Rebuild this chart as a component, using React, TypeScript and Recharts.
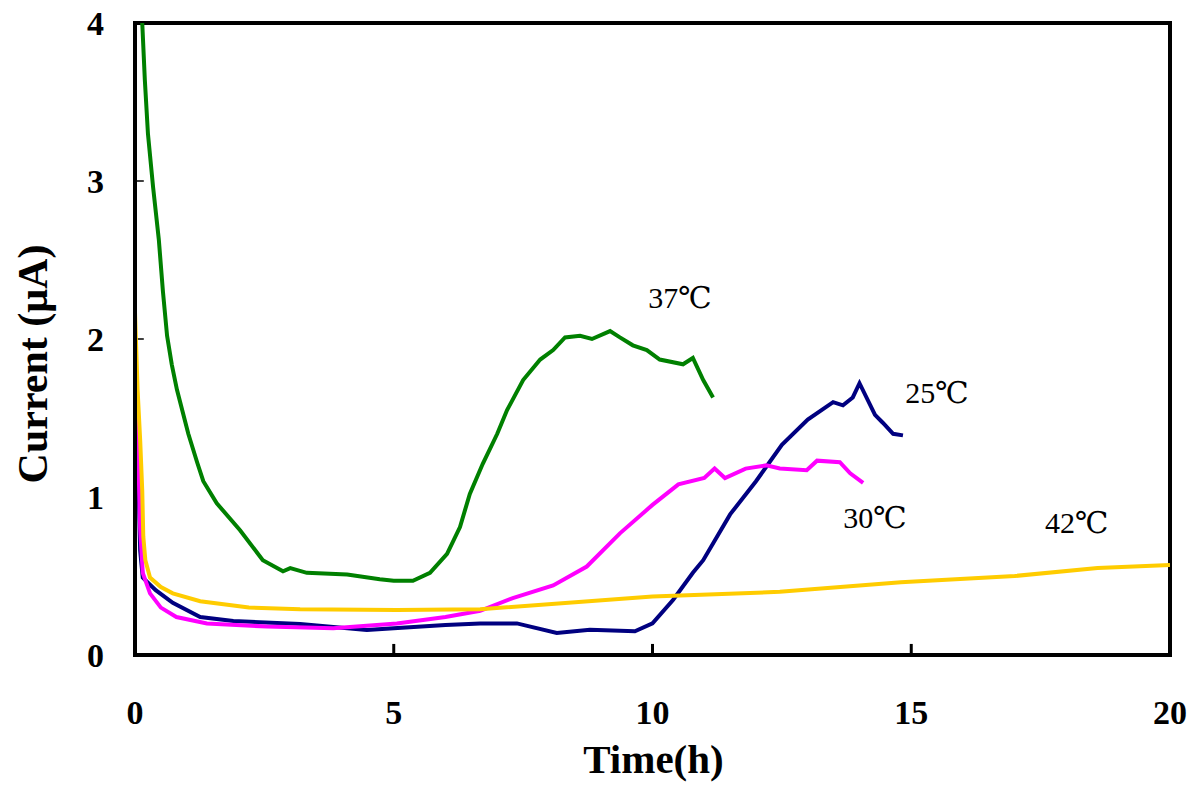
import React from 'react';
import { LineChart, Line, XAxis, YAxis, ReferenceArea, ReferenceLine, ReferenceDot, Label } from 'recharts';

// 37 °C run (green)
const t37 = [0.14, 0.19, 0.25, 0.35, 0.46, 0.54, 0.62, 0.71, 0.81, 1.03, 1.2, 1.32, 1.58, 2.03, 2.47, 2.86, 3.0, 3.32, 4.1, 4.73, 5.0, 5.37, 5.7, 6.03, 6.28, 6.47, 6.72, 7.0, 7.19, 7.5, 7.83, 8.08, 8.31, 8.6, 8.83, 9.18, 9.37, 9.62, 9.89, 10.14, 10.59, 10.78, 10.98, 11.17];
const v37 = [4.0, 3.64, 3.3, 2.96, 2.63, 2.3, 2.02, 1.84, 1.68, 1.4, 1.22, 1.1, 0.96, 0.79, 0.6, 0.53, 0.55, 0.52, 0.51, 0.48, 0.47, 0.47, 0.52, 0.64, 0.81, 1.02, 1.21, 1.4, 1.55, 1.74, 1.87, 1.93, 2.01, 2.02, 2.0, 2.05, 2.01, 1.96, 1.93, 1.87, 1.84, 1.88, 1.74, 1.63];

// 25 °C run (navy)
const t25 = [0.02, 0.06, 0.1, 0.15, 0.4, 0.73, 1.26, 1.9, 3.19, 4.48, 5.0, 6.0, 6.67, 7.38, 8.15, 8.79, 9.66, 10.0, 10.4, 10.78, 10.98, 11.5, 12.0, 12.5, 13.0, 13.49, 13.68, 13.87, 14.0, 14.3, 14.45, 14.65, 14.84];
const v25 = [1.63, 1.2, 0.66, 0.49, 0.41, 0.33, 0.24, 0.215, 0.196, 0.158, 0.17, 0.19, 0.2, 0.2, 0.14, 0.16, 0.15, 0.2, 0.35, 0.52, 0.6, 0.89, 1.1, 1.33, 1.49, 1.6, 1.58, 1.63, 1.72, 1.52, 1.47, 1.4, 1.39];

// 30 °C run (magenta)
const t30 = [0.02, 0.06, 0.1, 0.15, 0.29, 0.5, 0.8, 1.39, 2.55, 3.83, 5.06, 6.0, 6.67, 7.3, 8.08, 8.73, 9.37, 10.0, 10.5, 11.0, 11.2, 11.4, 11.8, 12.2, 12.46, 12.98, 13.18, 13.62, 13.82, 14.07];
const v30 = [1.69, 1.3, 0.8, 0.52, 0.39, 0.3, 0.24, 0.2, 0.18, 0.17, 0.2, 0.24, 0.28, 0.36, 0.44, 0.56, 0.77, 0.95, 1.08, 1.12, 1.18, 1.12, 1.18, 1.2, 1.18, 1.17, 1.23, 1.22, 1.15, 1.09];

// 42 °C run (yellow)
const t42 = [0.0, 0.05, 0.1, 0.14, 0.16, 0.2, 0.29, 0.5, 0.73, 1.26, 2.2, 3.19, 5.06, 6.67, 10.0, 12.46, 14.8, 17.0, 18.6, 20.0];
const v42 = [2.17, 1.68, 1.36, 1.04, 0.75, 0.6, 0.49, 0.43, 0.39, 0.34, 0.3, 0.29, 0.285, 0.29, 0.37, 0.4, 0.46, 0.5, 0.55, 0.57];

const xTicks = [0, 5, 10, 15, 20];
const yTicks = [0, 1, 2, 3, 4];
const innerXTicks = [5, 10, 15];
const innerYTicks = [1, 2, 3];

const toRows = (t: number[], v: number[]) => t.map((x, i) => ({ t: x, v: v[i] }));

const series = [
  { name: '37℃', data: toRows(t37, v37), color: '#008000', labelAt: { x: 10.53, y: 2.26 } },
  { name: '25℃', data: toRows(t25, v25), color: '#000080', labelAt: { x: 15.5, y: 1.66 } },
  { name: '30℃', data: toRows(t30, v30), color: '#FF00FF', labelAt: { x: 14.3, y: 0.87 } },
  { name: '42℃', data: toRows(t42, v42), color: '#FFCC00', labelAt: { x: 18.2, y: 0.84 } },
];

const serif = '"Liberation Serif", "Times New Roman", "DejaVu Serif", "Noto Sans CJK SC", serif';
const tickStyle = { fill: '#000', fontSize: 34, fontWeight: 700, fontFamily: serif };

const YTitle = (props: any) => {
  const vb = props.viewBox || {};
  const cx = 33;
  const cy = vb.y + vb.height / 2 + 25;
  return (
    <text x={cx} y={cy} transform={`rotate(-90, ${cx}, ${cy})`} textAnchor="middle" dominantBaseline="central"
      style={{ fontFamily: serif, fontSize: 42, fontWeight: 700, fill: '#000' }}>
      Current (μA)
    </text>
  );
};

const XTitle = (props: any) => {
  const vb = props.viewBox || {};
  return (
    <text x={vb.x + vb.width / 2 + 1} y={773} textAnchor="middle"
      style={{ fontFamily: serif, fontSize: 41, fontWeight: 700, fill: '#000' }}>
      Time(h)
    </text>
  );
};

const CurveLabel = (props: any) => {
  const vb = props.viewBox || {};
  return (
    <text x={vb.x} y={vb.y} textAnchor="middle" dominantBaseline="central"
      style={{ fontFamily: serif, fontSize: 30, fontWeight: 400, fill: '#000' }}>
      {props.value}
    </text>
  );
};

export default function App() {
  return (
    <div style={{ position: 'absolute', left: 0, top: 0, width: 1203, height: 785, background: '#fff' }}>
      <LineChart width={1203} height={785} margin={{ top: 23, right: 33, bottom: 50, left: 0 }}>
        <XAxis
          type="number"
          dataKey="t"
          domain={[0, 20]}
          ticks={xTicks}
          allowDataOverflow
          axisLine={{ stroke: '#000', strokeWidth: 4 }}
          tickLine={false}
          tickSize={0}
          tickMargin={45}
          tick={tickStyle}
          height={80}
        >
          <Label content={<XTitle />} />
        </XAxis>
        <YAxis
          type="number"
          dataKey="v"
          domain={[0, 4]}
          ticks={yTicks}
          allowDataOverflow
          axisLine={{ stroke: '#000', strokeWidth: 4 }}
          tickLine={false}
          tickSize={0}
          tickMargin={31}
          tick={tickStyle}
          width={135}
        >
          <Label content={<YTitle />} />
        </YAxis>
        <ReferenceArea x1={0} x2={20} y1={0} y2={4} fill="none" stroke="#000" strokeWidth={4} ifOverflow="visible" />
        {innerXTicks.map((x) => (
          <ReferenceLine key={`xt-${x}`} segment={[{ x, y: 0 }, { x, y: 0.07 }]} stroke="#000" strokeWidth={3} />
        ))}
        {innerYTicks.map((y) => (
          <ReferenceLine key={`yt-${y}`} segment={[{ x: 0, y }, { x: 0.17, y }]} stroke="#000" strokeWidth={1.5} />
        ))}
        {series.map((s) => (
          <Line
            key={s.name}
            data={s.data}
            dataKey="v"
            type="linear"
            stroke={s.color}
            strokeWidth={4}
            dot={false}
            activeDot={false}
            isAnimationActive={false}
          />
        ))}
        {series.map((s) => (
          <ReferenceDot key={`lab-${s.name}`} x={s.labelAt.x} y={s.labelAt.y} r={0} fill="none" stroke="none">
            <Label value={s.name} content={<CurveLabel />} />
          </ReferenceDot>
        ))}
      </LineChart>
    </div>
  );
}
